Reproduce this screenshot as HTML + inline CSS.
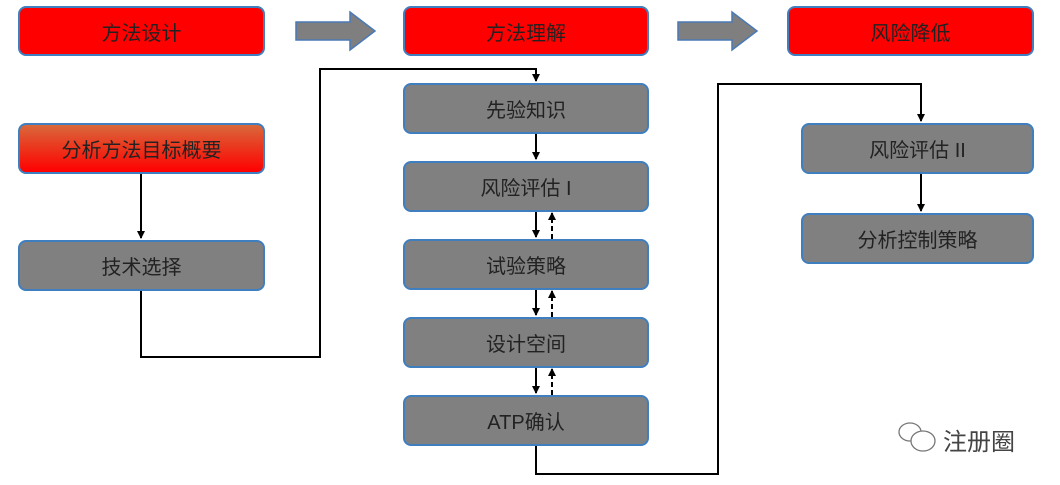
<!DOCTYPE html>
<html><head><meta charset="utf-8"><style>
body{margin:0;width:1060px;height:485px;background:#fff;position:relative;overflow:hidden;font-family:"Liberation Sans","Noto Sans CJK SC",sans-serif}
.b{position:absolute;box-sizing:border-box;border:2px solid #3f7fbf;border-radius:8px;display:flex;align-items:center;justify-content:center;font-size:20px;color:#222}
.r{background:#ff0000}
.g{background:#808080}
.o{background:linear-gradient(#d9683a,#ff0000)}
svg{position:absolute;left:0;top:0}
</style></head><body>
<svg width="1060" height="485">
<defs>
<marker id="a" markerWidth="8" markerHeight="8" refX="7" refY="4" orient="auto" markerUnits="userSpaceOnUse"><path d="M0,0 L8,4 L0,8z" fill="#000"/></marker>
</defs>
<polygon points="296,22 350,22 350,12 375,31 350,50 350,40 296,40" fill="#7f7f7f" stroke="#4a7ab5" stroke-width="1.5"/>
<polygon points="678,22 732,22 732,12 757,31 732,50 732,40 678,40" fill="#7f7f7f" stroke="#4a7ab5" stroke-width="1.5"/>
<g stroke="#000" stroke-width="2" fill="none">
<path d="M141,173 V238" marker-end="url(#a)"/>
<path d="M141,290 V357 H320 V69 H536 V81" marker-end="url(#a)"/>
<path d="M536,133 V159" marker-end="url(#a)"/>
<path d="M536,211 V237" marker-end="url(#a)"/>
<path d="M536,289 V315" marker-end="url(#a)"/>
<path d="M536,367 V393" marker-end="url(#a)"/>
<path d="M552,239 V213" stroke-dasharray="5,3" marker-end="url(#a)"/>
<path d="M552,317 V291" stroke-dasharray="5,3" marker-end="url(#a)"/>
<path d="M552,395 V369" stroke-dasharray="5,3" marker-end="url(#a)"/>
<path d="M536,445 V474 H718 V84 H921 V121" marker-end="url(#a)"/>
<path d="M921,173 V211" marker-end="url(#a)"/>
</g>
<g fill="#fff" stroke="#777" stroke-width="1.3">
<ellipse cx="910" cy="432" rx="11" ry="9"/>
<ellipse cx="923" cy="441" rx="12" ry="10"/>
</g>
</svg>
<div class="b r" style="left:18px;top:6px;width:247px;height:50px">方法设计</div>
<div class="b r" style="left:403px;top:6px;width:246px;height:50px">方法理解</div>
<div class="b r" style="left:787px;top:6px;width:247px;height:50px">风险降低</div>
<div class="b o" style="left:18px;top:123px;width:247px;height:51px">分析方法目标概要</div>
<div class="b g" style="left:18px;top:240px;width:247px;height:51px">技术选择</div>
<div class="b g" style="left:403px;top:83px;width:246px;height:51px">先验知识</div>
<div class="b g" style="left:403px;top:161px;width:246px;height:51px">风险评估 I</div>
<div class="b g" style="left:403px;top:239px;width:246px;height:51px">试验策略</div>
<div class="b g" style="left:403px;top:317px;width:246px;height:51px">设计空间</div>
<div class="b g" style="left:403px;top:395px;width:246px;height:51px">ATP确认</div>
<div class="b g" style="left:801px;top:123px;width:233px;height:51px">风险评估 II</div>
<div class="b g" style="left:801px;top:213px;width:233px;height:51px">分析控制策略</div>
<div style="position:absolute;left:943px;top:422px;font-size:24px;color:#444">注册圈</div>
</body></html>
